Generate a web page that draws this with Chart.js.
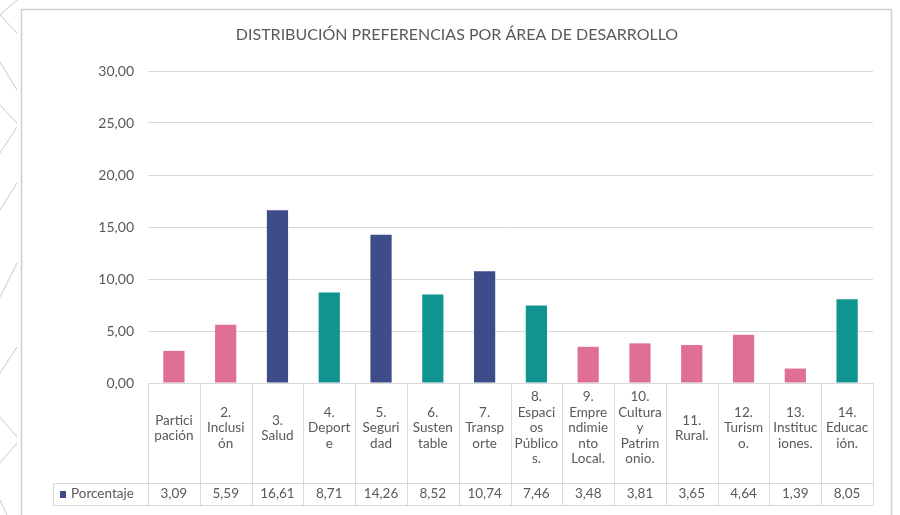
<!DOCTYPE html>
<html lang="es">
<head>
    <meta charset="UTF-8">
    <title>Distribución preferencias por área de desarrollo</title>
    <style>
        html, body { margin: 0; padding: 0; background: #ffffff; }
        #wrap { position: relative; width: 900px; height: 515px; }
        #deco { position: absolute; left: 0; top: 0; }
        #chartBox { position: absolute; left: 0; top: 0; width: 900px; height: 515px; }
    </style>
</head>
<body>
<div id="wrap">
    <!-- background slide decoration -->
    <svg id="deco" width="900" height="515" stroke="#c8c8c8" stroke-width="1" fill="none">
        <polyline points="17,0 0,15 17,33"/>
        <line x1="0" y1="62" x2="17" y2="90"/>
        <line x1="0" y1="105" x2="17" y2="123"/>
        <line x1="17" y1="127" x2="0" y2="153"/>
        <line x1="17" y1="183" x2="0" y2="210"/>
        <line x1="17" y1="263" x2="0" y2="297"/>
        <line x1="17" y1="347" x2="0" y2="373"/>
        <line x1="0" y1="417" x2="17" y2="437"/>
        <line x1="17" y1="443" x2="0" y2="463"/>
        <line x1="0" y1="500" x2="7" y2="515"/>
    </svg>
    <div id="chartBox">
        <canvas id="myChart"></canvas>
    </div>
</div>

<script src="https://cdn.jsdelivr.net/npm/chart.js@4.4.0/dist/chart.umd.min.js"></script>
<script>

    var chartTitle = "DISTRIBUCIÓN PREFERENCIAS POR ÁREA DE DESARROLLO";
    var seriesName = "Porcentaje";

    // category labels, already split the way the table cells wrap them
    var categories = [
        ["Partici", "pación"],
        ["2.", "Inclusi", "ón"],
        ["3.", "Salud"],
        ["4.", "Deport", "e"],
        ["5.", "Seguri", "dad"],
        ["6.", "Susten", "table"],
        ["7.", "Transp", "orte"],
        ["8.", "Espaci", "os", "Público", "s."],
        ["9.", "Empre", "ndimie", "nto", "Local."],
        ["10.", "Cultura", "y", "Patrim", "onio."],
        ["11.", "Rural."],
        ["12.", "Turism", "o."],
        ["13.", "Instituc", "iones."],
        ["14.", "Educac", "ión."]
    ];

    var porcentaje = [3.09, 5.59, 16.61, 8.71, 14.26, 8.52, 10.74, 7.46, 3.48, 3.81, 3.65, 4.64, 1.39, 8.05];

    // group of each area: p = pink, n = navy, t = teal
    var groups = ["p", "p", "n", "t", "n", "t", "n", "t", "p", "p", "p", "p", "p", "t"];

    var yTicks = [0, 5, 10, 15, 20, 25, 30];

    var groupColors = { p: "#df6f97", n: "#3e4c8a", t: "#0f9490" };
    var textColor = "#595959";
    var lineColor = "#d9d9d9";
    var fontFamily = "Lato, 'Open Sans', sans-serif";

    function fmt(v) {
        return v.toFixed(2).replace(".", ",");
    }

    // chart frame + title
    var framePlugin = {
        id: "frame",
        beforeDraw: function (chart) {
            var ctx = chart.ctx;
            ctx.save();
            ctx.fillStyle = "#ffffff";
            ctx.fillRect(21, 9, 871, 515);
            ctx.strokeStyle = "#cfcfcf";
            ctx.lineWidth = 1.5;
            ctx.strokeRect(21.5, 9.5, 870, 520);
            ctx.fillStyle = textColor;
            ctx.font = "16px " + fontFamily;
            ctx.textAlign = "center";
            ctx.textBaseline = "middle";
            ctx.fillText(chartTitle, 457, 35);
            ctx.restore();
        }
    };

    // data table under the x axis
    var tablePlugin = {
        id: "dataTable",
        afterDraw: function (chart) {
            var ctx = chart.ctx;
            var area = chart.chartArea;
            var xs = chart.scales.x;
            var n = categories.length;
            var colW = (area.right - area.left) / n;
            var top = area.bottom;
            var rowTop = top + 100;
            var rowBottom = rowTop + 22;
            var legendLeft = 53;

            ctx.save();
            ctx.strokeStyle = lineColor;
            ctx.lineWidth = 1;

            ctx.beginPath();
            ctx.moveTo(area.left, top + 0.5);
            ctx.lineTo(area.right, top + 0.5);
            ctx.moveTo(legendLeft, rowTop + 0.5);
            ctx.lineTo(area.right, rowTop + 0.5);
            ctx.moveTo(legendLeft, rowBottom + 0.5);
            ctx.lineTo(area.right, rowBottom + 0.5);
            ctx.moveTo(legendLeft + 0.5, rowTop);
            ctx.lineTo(legendLeft + 0.5, rowBottom);
            for (var k = 0; k <= n; k++) {
                var lx = Math.round(area.left + k * colW) + 0.5;
                ctx.moveTo(lx, top);
                ctx.lineTo(lx, rowBottom);
            }
            ctx.stroke();

            ctx.fillStyle = textColor;
            ctx.font = "13.5px " + fontFamily;
            ctx.textAlign = "center";
            ctx.textBaseline = "middle";
            var lh = 15.5;
            var midY = top + 45;
            for (var i = 0; i < n; i++) {
                var cx = xs.getPixelForValue(i);
                var lines = categories[i];
                var y0 = midY - (lines.length - 1) * lh / 2;
                for (var j = 0; j < lines.length; j++) {
                    ctx.fillText(lines[j], cx, y0 + j * lh);
                }
                ctx.fillText(fmt(porcentaje[i]), cx, rowTop + 11);
            }

            ctx.fillStyle = groupColors.n;
            ctx.fillRect(legendLeft + 7, rowTop + 8, 6, 7);
            ctx.fillStyle = textColor;
            ctx.textAlign = "left";
            ctx.fillText(seriesName, legendLeft + 18, rowTop + 11);
            ctx.restore();
        }
    };

    var ctx = document.getElementById("myChart").getContext("2d");
    var myChart = new Chart(ctx, {
        type: "bar",
        data: {
            labels: categories,
            datasets: [{
                label: seriesName,
                data: porcentaje,
                backgroundColor: groups.map(function (g) { return groupColors[g]; }),
                barPercentage: 0.41,
                categoryPercentage: 1.0
            }]
        },
        options: {
            responsive: true,
            maintainAspectRatio: false,
            animation: false,
            layout: { padding: { top: 71, right: 27, bottom: 132, left: 0 } },
            plugins: {
                legend: { display: false },
                title: { display: false },
                tooltip: { enabled: false }
            },
            scales: {
                x: { display: false },
                y: {
                    min: 0,
                    max: 30,
                    afterFit: function (scale) { scale.width = 148; },
                    afterBuildTicks: function (scale) {
                        scale.ticks = yTicks.map(function (v) { return { value: v }; });
                    },
                    ticks: {
                        padding: 14,
                        color: textColor,
                        font: { family: fontFamily, size: 14 },
                        callback: function (v) { return fmt(v); }
                    },
                    grid: { color: lineColor, drawTicks: false },
                    border: { display: false }
                }
            }
        },
        plugins: [framePlugin, tablePlugin]
    });

</script>
</body>
</html>
